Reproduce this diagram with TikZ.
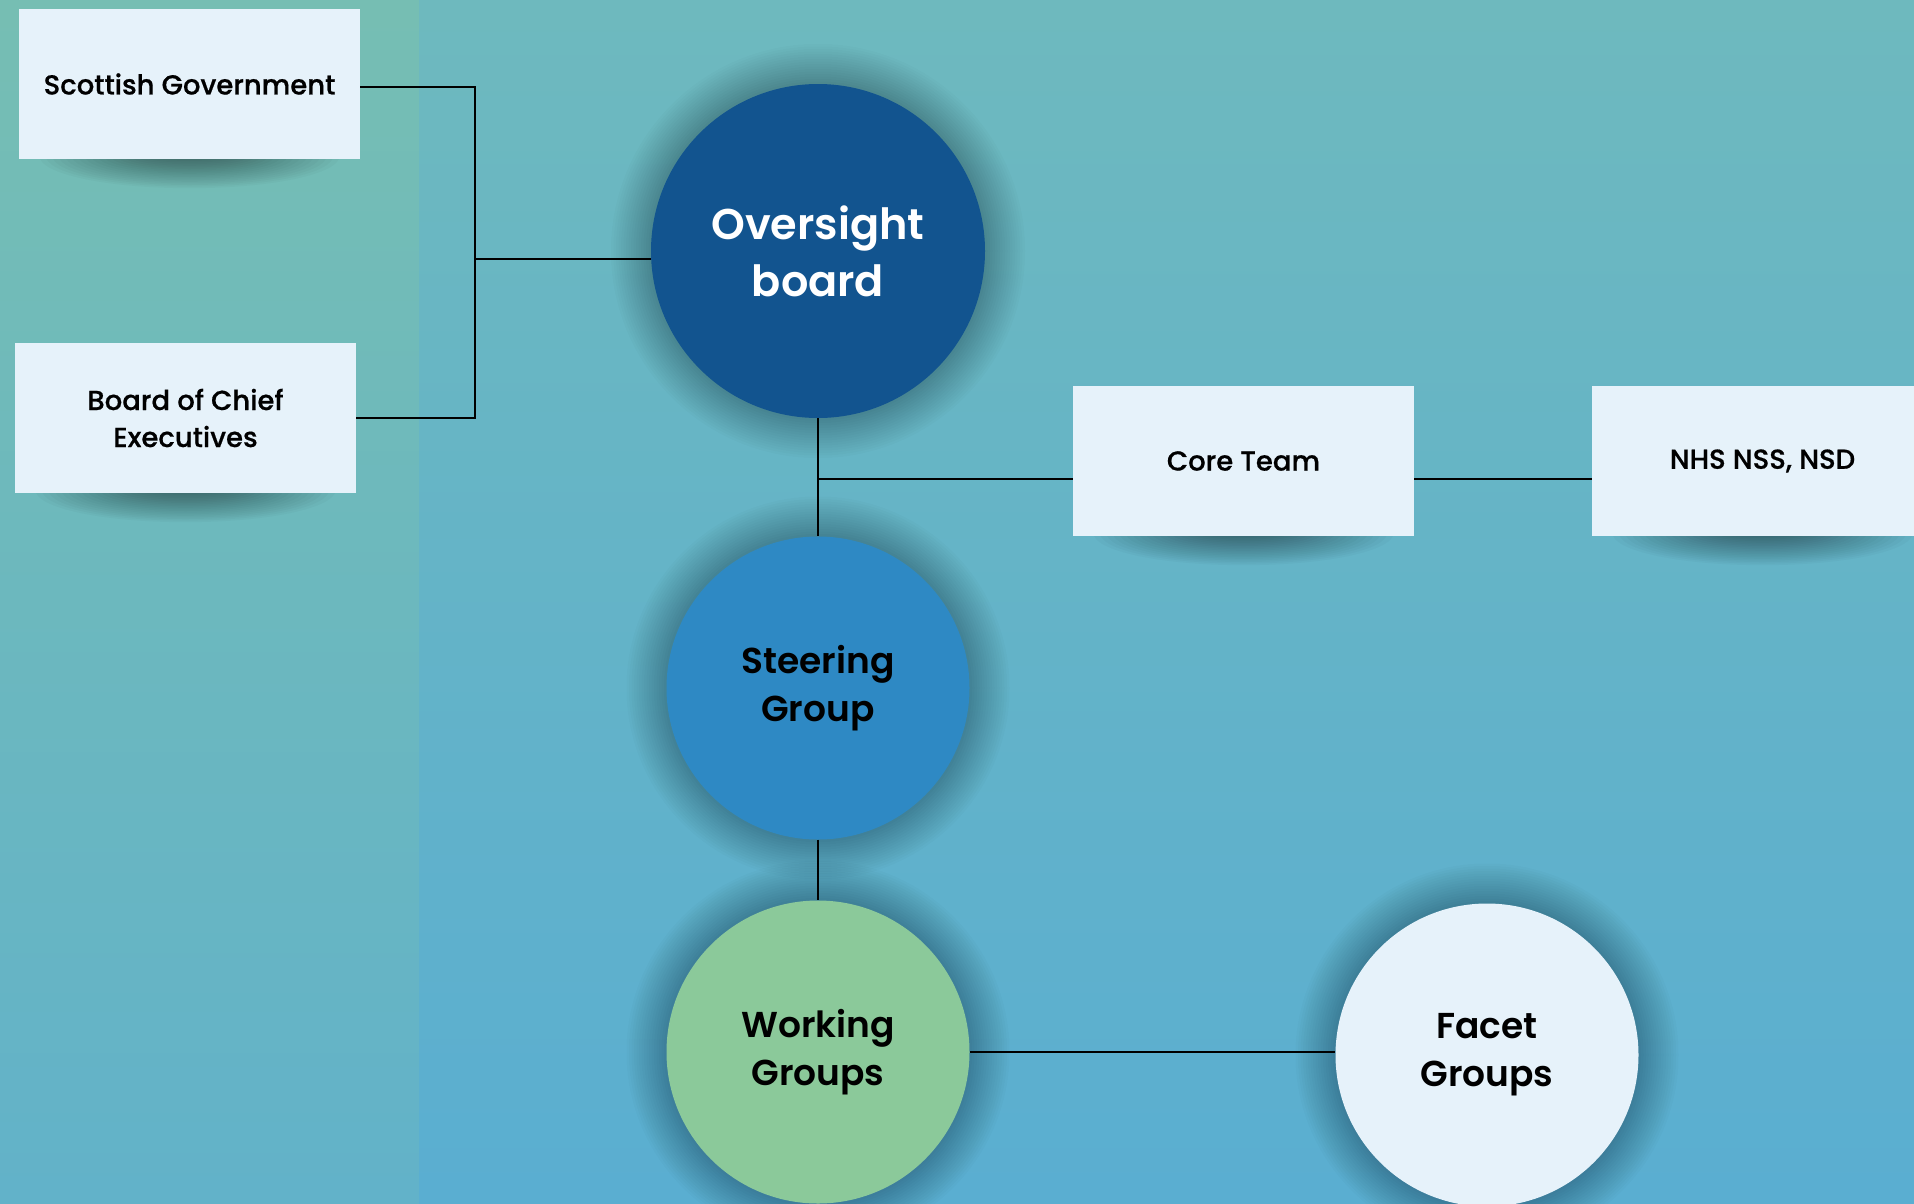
\documentclass[tikz,border=0pt]{standalone}
\usepackage{fontspec}
\setmainfont{Poppins}[BoldFont={Poppins SemiBold}]
\newfontfamily\boxfont{Poppins Medium}[FakeBold=0.6]
\usetikzlibrary{backgrounds}

\definecolor{bgtopL}{HTML}{76BEB3}
\definecolor{bgbotL}{HTML}{62B2C9}
\definecolor{bgtop}{HTML}{6EB9BE}
\definecolor{bgbot}{HTML}{5AAED1}
\definecolor{navy}{HTML}{12548F}
\definecolor{midblue}{HTML}{2E89C4}
\definecolor{sage}{HTML}{8BC99A}
\definecolor{paleblue}{HTML}{E6F2FA}

\tikzset{
  infobox/.style={rectangle, fill=paleblue, minimum width=341pt, minimum height=150pt,
    inner sep=0pt, align=center, font=\boxfont\fontsize{27.5}{37}\selectfont},
  group/.style={circle, minimum size=303pt, inner sep=0pt, align=center,
    font=\bfseries\fontsize{36}{48}\selectfont},
  link/.style={draw=black, line width=1.8pt},
}

\begin{document}
\begin{tikzpicture}[x=1pt, y=-1pt]
  \useasboundingbox (0,0) rectangle (1914,1203);
  \clip (0,0) rectangle (1914,1203);
  % boxes
  \node[infobox] (scotgov) at (189.5,84) {Scottish Government};
  \node[infobox] (chiefs) at (185.5,418) {Board of Chief\\Executives};
  \node[infobox] (core) at (1243.5,461) {Core Team};
  \node[infobox] (nhs) at (1762.5,461) {NHS NSS, NSD};
  % circles
  \node[group, minimum size=334pt, fill=navy, text=white,
    font=\bfseries\fontsize{43}{57}\selectfont] (oversight) at (818,251) {Oversight\\board};
  \node[group, fill=midblue] (steering) at (818,688) {Steering\\Group};
  \node[group, fill=sage] (working) at (818,1052) {Working\\Groups};
  \node[group, fill=paleblue] (facet) at (1487,1055) {Facet\\Groups};
  % links
  \coordinate (spine) at (475,0);
  \coordinate (tee) at ([yshift=-18pt]core.west);
  \draw[link] ([yshift=-3pt]scotgov.east) -- ([yshift=-3pt]scotgov.east -| spine)
    -- (chiefs.east -| spine) -- (chiefs.east);
  \draw[link] ([yshift=-8pt]oversight.west) -- ([yshift=-8pt]oversight.west -| spine);
  \draw[link] (oversight.south) -- (steering.north);
  \draw[link] (tee) -- (tee -| oversight.south);
  \draw[link] ([yshift=-18pt]core.east) -- ([yshift=-18pt]nhs.west);
  \draw[link] (steering.south) -- (working.north);
  \draw[link] (working.east) -- (working.east -| facet.west);
  % background and shadows
  \begin{scope}[on background layer]
    \clip (0,0) rectangle (1914,1203);
    \shade[top color=bgtopL, bottom color=bgbotL] (0,0) rectangle (419,1203);
    \shade[top color=bgtop, bottom color=bgbot] (419,0) rectangle (1914,1203);
    \foreach \b in {scotgov,chiefs,core,nhs}
      \foreach \k in {1,...,20}
        \fill[black, opacity=0.025] ([yshift=3pt]\b.south) ellipse [x radius=20+6.5*\k, y radius=1.6*\k];
    \foreach \c/\r in {oversight/167,steering/151.5,working/151.5,facet/151.5}
      \foreach \k in {1,...,16}
        \fill[black, opacity=0.014] (\c) circle [radius=\r+2.5*\k];
  \end{scope}
\end{tikzpicture}
\end{document}
